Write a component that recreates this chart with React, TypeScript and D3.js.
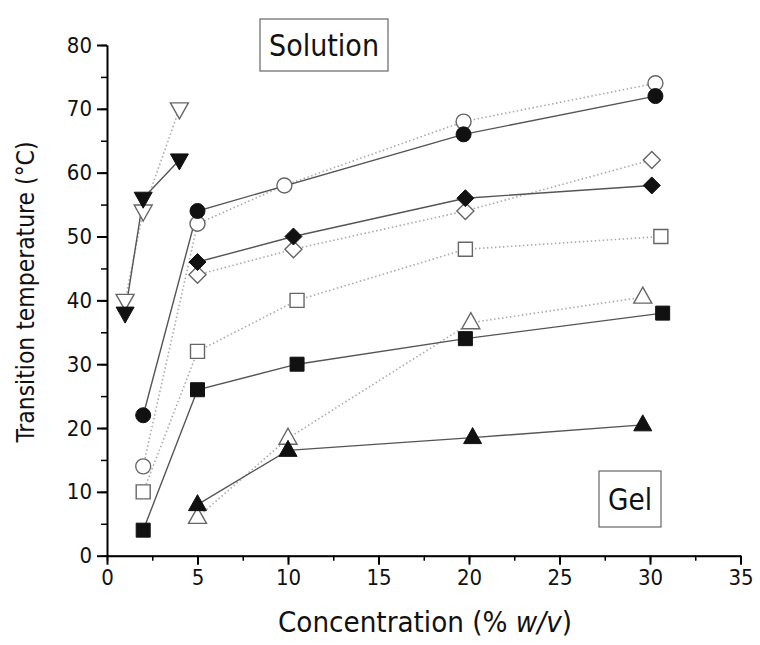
import * as d3 from "d3";
import { useRef, useEffect } from "react";

// [concentration, temperature]
const downFilled = [[1, 38], [2, 56], [4, 62]];
const downOpen = [[1, 40], [2, 54], [4, 70]];
const circFilled = [[2, 22], [5, 54], [19.7, 66], [30.3, 72]];
const circOpen = [[2, 14], [5, 52], [9.8, 58], [19.7, 68], [30.3, 74]];
const diamFilled = [[5, 46], [10.3, 50], [19.8, 56], [30.1, 58]];
const diamOpen = [[5, 44], [10.3, 48], [19.8, 54], [30.1, 62]];
const sqFilled = [[2, 4], [5, 26], [10.5, 30], [19.8, 34], [30.7, 38]];
const sqOpen = [[2, 10], [5, 32], [10.5, 40], [19.8, 48], [30.6, 50]];
const triFilled = [[5, 8], [10, 16.5], [20.2, 18.5], [29.6, 20.5]];
const triOpen = [[5, 6], [10, 18.4], [20.1, 36.5], [29.6, 40.5]];

const xTicks = [0, 5, 10, 15, 20, 25, 30, 35];
const yTicks = [0, 10, 20, 30, 40, 50, 60, 70, 80];

const FONT = "'DejaVu Sans Condensed', 'Liberation Sans Narrow', 'Open Sans', sans-serif";

const series = [
  { name: "downOpen", data: downOpen, shape: "down", filled: false },
  { name: "circOpen", data: circOpen, shape: "circle", filled: false },
  { name: "diamOpen", data: diamOpen, shape: "diamond", filled: false },
  { name: "sqOpen", data: sqOpen, shape: "square", filled: false },
  { name: "triOpen", data: triOpen, shape: "up", filled: false },
  { name: "downFilled", data: downFilled, shape: "down", filled: true },
  { name: "circFilled", data: circFilled, shape: "circle", filled: true },
  { name: "diamFilled", data: diamFilled, shape: "diamond", filled: true },
  { name: "sqFilled", data: sqFilled, shape: "square", filled: true },
  { name: "triFilled", data: triFilled, shape: "up", filled: true },
];

const shapePath = (shape) => {
  if (shape === "circle") return d3.arc()({ innerRadius: 0, outerRadius: 7.5, startAngle: 0, endAngle: 2 * Math.PI });
  if (shape === "square") return "M-7,-7H7V7H-7Z";
  if (shape === "diamond") return "M0,-8.5L8.5,0L0,8.5L-8.5,0Z";
  if (shape === "up") return "M0,-10L9,6L-9,6Z";
  return "M0,10L9,-6L-9,-6Z";
};

const App = () => {
  const container = useRef(null);

  useEffect(() => {
    let node = container.current;
    let svg = d3.select(node);
    svg.selectAll("*").remove();

    let xScale = d3.scaleLinear().domain([0, 35]).range([107, 740.5]);
    let yScale = d3.scaleLinear().domain([0, 80]).range([555.7, 45]);

    // axes
    let xaxisg = svg.append("g").attr("transform", `translate(0,${yScale(0)})`);
    xaxisg.call(
      d3.axisBottom(xScale).tickValues(d3.range(0, 35.1, 2.5)).tickSize(5).tickFormat("").tickSizeOuter(0)
    );
    xaxisg.selectAll(".tick line").attr("stroke-width", 1.5);
    let xmajor = svg.append("g").attr("transform", `translate(0,${yScale(0)})`);
    xmajor.call(d3.axisBottom(xScale).tickValues(xTicks).tickSize(9).tickSizeOuter(0).tickPadding(5));
    xmajor.select(".domain").attr("stroke-width", 2);
    xmajor.selectAll(".tick line").attr("stroke-width", 2);
    xmajor
      .selectAll(".tick text")
      .attr("font-family", FONT)
      .attr("font-size", 22)
      .attr("fill", "#111");

    let yaxisg = svg.append("g").attr("transform", `translate(${xScale(0)},0)`);
    yaxisg.call(d3.axisLeft(yScale).tickValues(d3.range(0, 80.1, 5)).tickSize(6).tickFormat("").tickSizeOuter(0));
    yaxisg.selectAll(".tick line").attr("stroke-width", 1.5);
    let ymajor = svg.append("g").attr("transform", `translate(${xScale(0)},0)`);
    ymajor.call(d3.axisLeft(yScale).tickValues(yTicks).tickSize(10).tickSizeOuter(0).tickPadding(5));
    ymajor.select(".domain").attr("stroke-width", 2);
    ymajor.selectAll(".tick line").attr("stroke-width", 2);
    ymajor
      .selectAll(".tick text")
      .attr("font-family", FONT)
      .attr("font-size", 22)
      .attr("fill", "#111");

    // lines
    let lineGen = d3
      .line()
      .x((d) => xScale(d[0]))
      .y((d) => yScale(d[1]));

    svg
      .selectAll(".dotted-line")
      .data(series.filter((s) => !s.filled))
      .join("path")
      .attr("class", "dotted-line")
      .attr("d", (s) => lineGen(s.data))
      .attr("fill", "none")
      .attr("stroke", "#aaa")
      .attr("stroke-width", 1.6)
      .attr("stroke-dasharray", "1.5,2.5");

    svg
      .selectAll(".solid-line")
      .data(series.filter((s) => s.filled))
      .join("path")
      .attr("class", "solid-line")
      .attr("d", (s) => lineGen(s.data))
      .attr("fill", "none")
      .attr("stroke", "#555")
      .attr("stroke-width", 1.4);

    // markers
    series.forEach((s) => {
      svg
        .append("g")
        .selectAll("path")
        .data(s.data)
        .join("path")
        .attr("transform", (d) => `translate(${xScale(d[0])},${yScale(d[1])})`)
        .attr("d", shapePath(s.shape))
        .attr("fill", s.filled ? "#111" : "#fff")
        .attr("stroke", s.filled ? "#111" : "#666")
        .attr("stroke-width", s.filled ? 1 : 1.4);
    });

    // region boxes
    let boxes = [
      { label: "Solution", x0: 260, y0: 19, x1: 388, y1: 71, size: 30, len: 110 },
      { label: "Gel", x0: 599, y0: 471, x1: 661, y1: 527, size: 31, len: 44 },
    ];
    let boxg = svg.selectAll(".box-g").data(boxes).join("g").attr("class", "box-g");
    boxg
      .append("rect")
      .attr("x", (d) => d.x0)
      .attr("y", (d) => d.y0)
      .attr("width", (d) => d.x1 - d.x0)
      .attr("height", (d) => d.y1 - d.y0)
      .attr("fill", "#fff")
      .attr("stroke", "#666")
      .attr("stroke-width", 1.2);
    boxg
      .append("text")
      .attr("x", (d) => (d.x0 + d.x1) / 2)
      .attr("y", (d) => (d.y0 + d.y1) / 2)
      .attr("dy", "0.36em")
      .attr("text-anchor", "middle")
      .attr("font-family", FONT)
      .attr("font-size", (d) => d.size)
      .attr("textLength", (d) => d.len)
      .attr("lengthAdjust", "spacingAndGlyphs")
      .attr("fill", "#111")
      .text((d) => d.label);

    // axis titles
    svg
      .append("text")
      .attr("transform", `translate(34,292)rotate(-90)`)
      .attr("text-anchor", "middle")
      .attr("font-family", FONT)
      .attr("font-size", 24)
      .attr("textLength", 301)
      .attr("lengthAdjust", "spacingAndGlyphs")
      .attr("fill", "#111")
      .text("Transition temperature (\u00B0C)");

    let xt = svg
      .append("text")
      .attr("x", 425)
      .attr("y", 632)
      .attr("text-anchor", "middle")
      .attr("font-family", FONT)
      .attr("font-size", 28)
      .attr("textLength", 294)
      .attr("lengthAdjust", "spacingAndGlyphs")
      .attr("fill", "#111");
    xt.append("tspan").text("Concentration (% ");
    xt.append("tspan").attr("font-style", "italic").text("w/v");
    xt.append("tspan").text(")");
  }, []);

  return (
    <svg
      ref={container}
      width={760}
      height={645}
      style={{ position: "absolute", left: 0, top: 0, background: "#fff" }}
    ></svg>
  );
};

export default App;
